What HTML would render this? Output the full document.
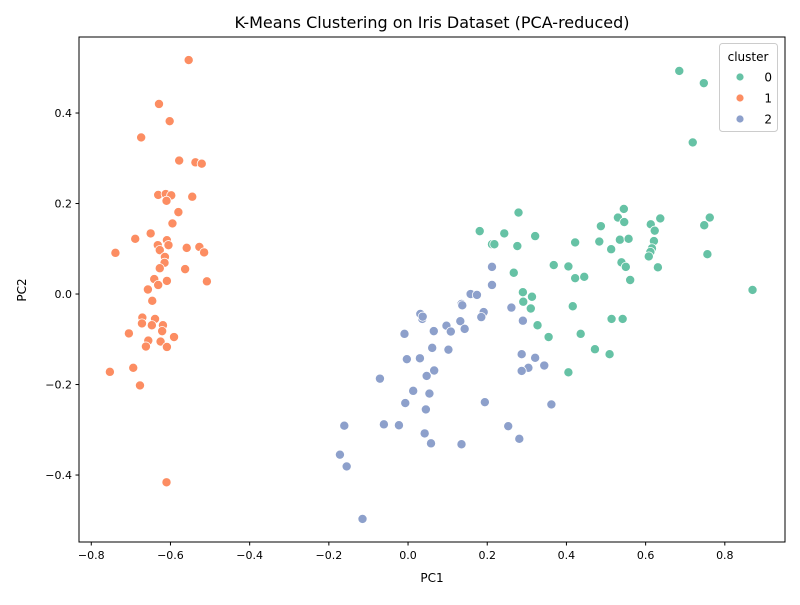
<!DOCTYPE html>
<html><head><meta charset="utf-8"><style>
body{margin:0;background:#fff;}
svg text{font-family:"DejaVu Sans","Liberation Sans",sans-serif;fill:#000;}
</style></head><body>
<svg id="chart" width="800" height="600">
<rect width="800" height="600" fill="#fff"/>
<text x="432" y="28" font-size="16" text-anchor="middle">K-Means Clustering on Iris Dataset (PCA-reduced)</text>
<g id="plot"></g>
<rect x="79" y="37" width="706" height="505" fill="none" stroke="#000" stroke-width="1"/>
<text x="432" y="582" font-size="12" text-anchor="middle">PC1</text>
<text transform="translate(26,290) rotate(-90)" font-size="12" text-anchor="middle">PC2</text>
<g>
<rect x="719.5" y="43.5" width="58" height="88" rx="3" fill="#fff" fill-opacity="0.8" stroke="#ccc"/>
<text x="748" y="61" font-size="12" text-anchor="middle">cluster</text>
<g id="legend-items"></g>
</g>
</svg>
<script>
const clusterNames = ["0","1","2"];
const clusterColors = ["#66c2a5","#fc8d62","#8da0cb"];
const xTicks = [-0.8,-0.6,-0.4,-0.2,0.0,0.2,0.4,0.6,0.8];
const yTicks = [-0.4,-0.2,0.0,0.2,0.4];
const c0x = [0.685,0.747,0.719,0.279,0.181,0.243,0.212,0.218,0.276,0.321,0.422,0.483,0.487,0.530,0.545,0.546,0.535,0.557,0.513,0.613,0.637,0.623,0.621,0.616,0.612,0.608,0.631,0.539,0.550,0.561,0.748,0.762,0.756,0.870,0.368,0.405,0.422,0.445,0.267,0.290,0.313,0.291,0.310,0.416,0.514,0.542,0.327,0.436,0.355,0.472,0.509,0.405];
const c0y = [0.493,0.466,0.335,0.180,0.139,0.134,0.110,0.110,0.106,0.128,0.114,0.116,0.150,0.169,0.188,0.159,0.120,0.122,0.099,0.154,0.167,0.140,0.117,0.101,0.093,0.083,0.059,0.070,0.060,0.031,0.152,0.169,0.088,0.009,0.064,0.061,0.035,0.038,0.047,0.004,-0.006,-0.017,-0.032,-0.027,-0.055,-0.055,-0.069,-0.088,-0.095,-0.122,-0.133,-0.173];
const c1x = [-0.554,-0.629,-0.602,-0.674,-0.578,-0.537,-0.521,-0.631,-0.612,-0.598,-0.610,-0.545,-0.580,-0.595,-0.689,-0.650,-0.609,-0.632,-0.605,-0.627,-0.739,-0.559,-0.527,-0.515,-0.614,-0.615,-0.627,-0.563,-0.508,-0.641,-0.609,-0.631,-0.657,-0.646,-0.671,-0.639,-0.672,-0.647,-0.619,-0.621,-0.705,-0.591,-0.656,-0.625,-0.662,-0.609,-0.694,-0.753,-0.677,-0.610];
const c1y = [0.517,0.420,0.382,0.346,0.295,0.291,0.288,0.219,0.221,0.218,0.206,0.215,0.181,0.156,0.122,0.134,0.119,0.108,0.108,0.097,0.091,0.102,0.104,0.092,0.082,0.069,0.057,0.055,0.028,0.033,0.029,0.020,0.010,-0.015,-0.052,-0.055,-0.065,-0.069,-0.069,-0.082,-0.087,-0.095,-0.103,-0.105,-0.116,-0.117,-0.163,-0.172,-0.202,-0.416];
const c2x = [0.212,0.212,0.158,0.174,0.135,0.031,0.036,0.191,0.185,0.261,0.290,0.132,0.097,0.108,0.143,0.065,-0.009,0.061,0.102,-0.003,0.030,0.287,0.321,0.344,0.304,0.287,0.066,0.047,-0.071,0.013,0.054,-0.007,0.045,0.194,0.362,-0.161,-0.061,-0.023,0.253,0.042,0.058,0.135,0.281,-0.172,-0.155,-0.115,0.137,0.037];
const c2y = [0.060,0.020,0.000,-0.002,-0.022,-0.044,-0.055,-0.040,-0.051,-0.030,-0.059,-0.060,-0.070,-0.083,-0.077,-0.082,-0.088,-0.119,-0.123,-0.144,-0.142,-0.133,-0.141,-0.158,-0.163,-0.170,-0.169,-0.181,-0.187,-0.214,-0.220,-0.241,-0.255,-0.239,-0.244,-0.291,-0.288,-0.290,-0.292,-0.308,-0.330,-0.332,-0.320,-0.355,-0.381,-0.497,-0.025,-0.050];
const seriesX = [c0x,c1x,c2x];
const seriesY = [c0y,c1y,c2y];

const L=79,R=785,T=37,B=542, XMIN=-0.831,XMAX=0.952,YMIN=-0.548,YMAX=0.568;
const sx=v=>L+(v-XMIN)/(XMAX-XMIN)*(R-L);
const sy=v=>B-(v-YMIN)/(YMAX-YMIN)*(B-T);
const NS="http://www.w3.org/2000/svg";
const svg=document.getElementById('chart');
const plot=document.getElementById('plot');
function mk(tag,attrs,parent){const e=document.createElementNS(NS,tag);for(const k in attrs)e.setAttribute(k,attrs[k]);(parent||svg).appendChild(e);return e;}
const fmt=v=>(v<0?"\u2212":"")+Math.abs(v).toFixed(1);
xTicks.forEach(v=>{
  const x=sx(v);
  const t=mk('line',{x1:x,x2:x,y1:B,y2:B+3.5,stroke:'#000'});
  
  
  const l=mk('text',{x:x,y:B+17,'font-size':11,'text-anchor':'middle'});
  l.textContent=fmt(v);
  
  
});
yTicks.forEach(v=>{
  const y=sy(v);
  const t=mk('line',{x1:L-3.5,x2:L,y1:y,y2:y,stroke:'#000'});
  
  
  const l=mk('text',{x:L-7,y:y+4,'font-size':11,'text-anchor':'end'});
  l.textContent=fmt(v);
  
  
});
seriesX.forEach((xs,s)=>{
  xs.forEach((v,i)=>{
    const c=mk('circle',{cx:sx(v),cy:sy(seriesY[s][i]),r:4.6,fill:clusterColors[s],stroke:'#fff','stroke-width':0.8},plot);
    
    
  });
});
const lg=document.getElementById('legend-items');
clusterNames.forEach((n,i)=>{
  const y=77+i*21;
  const c=mk('circle',{cx:740,cy:y,r:4,fill:clusterColors[i],stroke:'#fff','stroke-width':0.8},lg);
  
  
  const t=mk('text',{x:772,y:y+4.5,'font-size':12,'text-anchor':'end'},lg);
  t.textContent=n;
  
  
});
</script>
</body></html>
